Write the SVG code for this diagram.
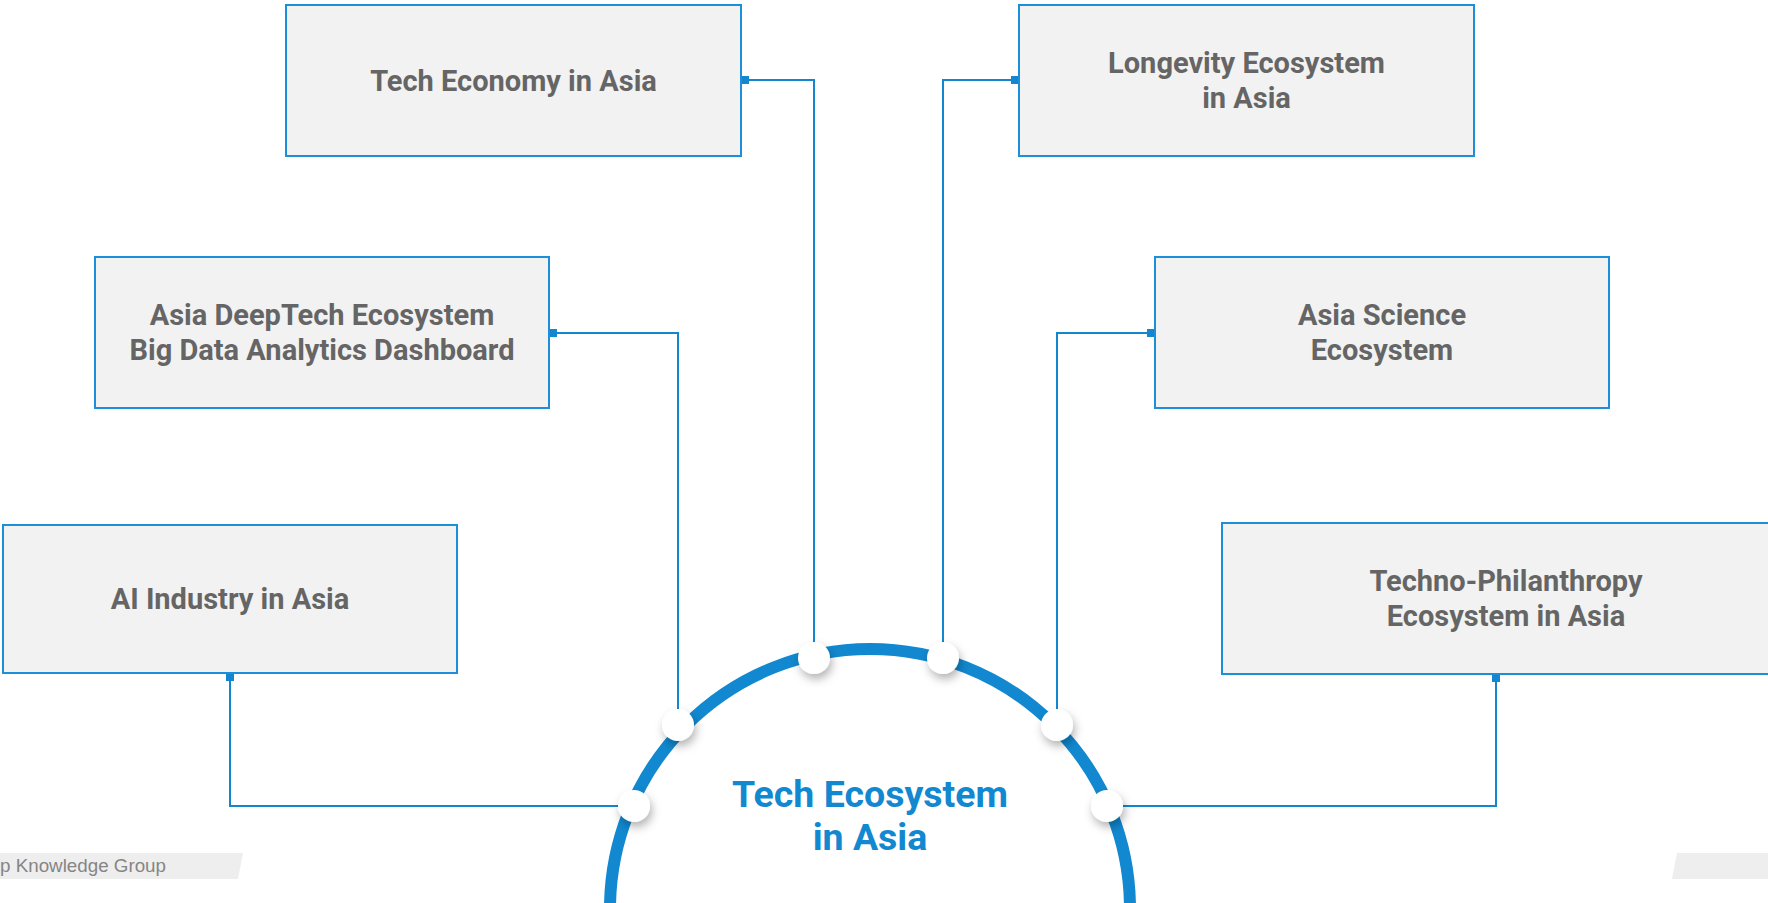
<svg xmlns="http://www.w3.org/2000/svg" width="1768" height="903" viewBox="0 0 1768 903">
  <style>
    .box { fill: #F2F2F2; stroke: #1B8FDA; stroke-width: 2; }
    .lbl { font-family: Roboto, "Liberation Sans", sans-serif; font-weight: 700; font-size: 29px; fill: #656565; text-anchor: middle; }
    .hub { font-family: Roboto, "Liberation Sans", sans-serif; font-weight: 700; font-size: 37.5px; fill: #1288D0; text-anchor: middle; }
    .wire { fill: none; stroke: #1386CF; stroke-width: 2; }
    .cap { fill: #1386CF; }
    .port { fill: #FFFFFF; filter: url(#sh); }
    .foot { font-family: "Liberation Sans", Arial, sans-serif; font-size: 18.8px; fill: #858585; }
  </style>
  <defs>
    <filter id="sh" x="-80%" y="-80%" width="260%" height="260%">
      <feDropShadow dx="2" dy="5" stdDeviation="5" flood-color="#000000" flood-opacity="0.3"/>
    </filter>
  </defs>
  <rect width="1768" height="903" fill="#FFFFFF"/>

  <g id="footer">
    <polygon points="0,853 243,853 238,879 0,879" fill="#EEEEEE"/>
    <text class="foot" x="0" y="872">p Knowledge Group</text>
    <polygon points="1677,853 1768,853 1768,879 1672,879" fill="#EEEEEE"/>
  </g>

  <g id="connectors">
    <path class="wire" d="M749 80 H814 V658"/>
    <rect class="cap" x="741" y="76" width="8" height="8"/>
    <path class="wire" d="M1011 80 H943 V658"/>
    <rect class="cap" x="1011" y="76" width="8" height="8"/>
    <path class="wire" d="M557 333 H678 V725"/>
    <rect class="cap" x="549" y="329" width="8" height="8"/>
    <path class="wire" d="M1147 333 H1057 V725"/>
    <rect class="cap" x="1147" y="329" width="8" height="8"/>
    <path class="wire" d="M230 681 V806 H634"/>
    <rect class="cap" x="226" y="673" width="8" height="8"/>
    <path class="wire" d="M1496 682 V806 H1107"/>
    <rect class="cap" x="1492" y="674" width="8" height="8"/>
  </g>

  <g id="hub">
    <circle cx="870" cy="909" r="260" fill="#FFFFFF" stroke="#1188CF" stroke-width="12"/>
    <text class="hub" x="870" y="807">Tech Ecosystem</text>
    <text class="hub" x="870" y="850">in Asia</text>
    <circle class="port" cx="814" cy="658" r="16"/>
    <circle class="port" cx="943" cy="658" r="16"/>
    <circle class="port" cx="678" cy="725" r="16"/>
    <circle class="port" cx="1057" cy="725" r="16"/>
    <circle class="port" cx="634" cy="806" r="16"/>
    <circle class="port" cx="1107" cy="806" r="16"/>
  </g>

  <g id="tech-economy">
    <rect class="box" x="286" y="5" width="455" height="151"/>
    <text class="lbl" x="513.5" y="91">Tech Economy in Asia</text>
  </g>
  <g id="longevity">
    <rect class="box" x="1019" y="5" width="455" height="151"/>
    <text class="lbl" x="1246.5" y="73">Longevity Ecosystem</text>
    <text class="lbl" x="1246.5" y="108">in Asia</text>
  </g>
  <g id="deeptech">
    <rect class="box" x="95" y="257" width="454" height="151"/>
    <text class="lbl" x="322" y="325">Asia DeepTech Ecosystem</text>
    <text class="lbl" x="322" y="360">Big Data Analytics Dashboard</text>
  </g>
  <g id="science">
    <rect class="box" x="1155" y="257" width="454" height="151"/>
    <text class="lbl" x="1382" y="325">Asia Science</text>
    <text class="lbl" x="1382" y="360">Ecosystem</text>
  </g>
  <g id="ai-industry">
    <rect class="box" x="3" y="525" width="454" height="148"/>
    <text class="lbl" x="230" y="609">AI Industry in Asia</text>
  </g>
  <g id="philanthropy">
    <rect class="box" x="1222" y="523" width="570" height="151"/>
    <text class="lbl" x="1506" y="591">Techno-Philanthropy</text>
    <text class="lbl" x="1506" y="626">Ecosystem in Asia</text>
  </g>
</svg>
